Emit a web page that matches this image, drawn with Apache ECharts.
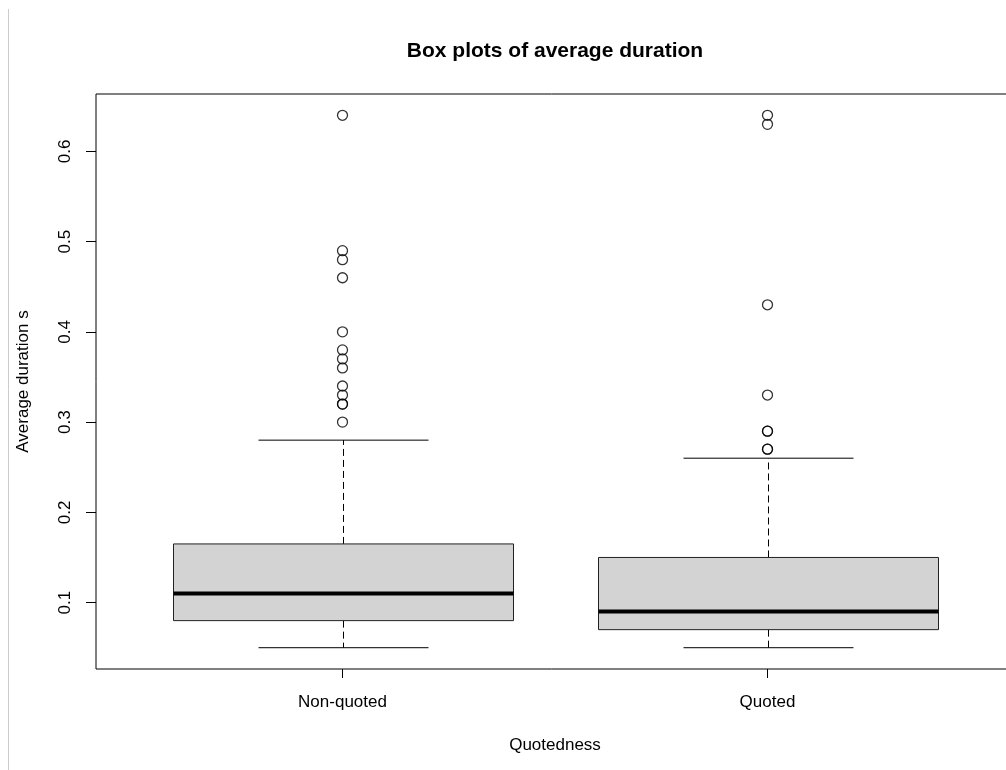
<!DOCTYPE html>
<html>
<head>
<meta charset="utf-8">
<script src="https://cdn.jsdelivr.net/npm/echarts@6/dist/echarts.min.js"></script>
<style>
html,body{margin:0;padding:0;background:#fff;}
#chart{width:1006px;height:770px;}
</style>
</head>
<body>
<div id="chart"></div>
<script>
// ---- data ----
var categories = ['Non-quoted', 'Quoted'];
var lowerWhisker = [0.05, 0.05];
var q1 = [0.08, 0.07];
var median = [0.11, 0.09];
var q3 = [0.165, 0.15];
var upperWhisker = [0.28, 0.26];
var outliersNonQuoted = [0.64, 0.49, 0.48, 0.46, 0.40, 0.38, 0.37, 0.36, 0.34, 0.33, 0.32, 0.32, 0.30];
var outliersQuoted = [0.64, 0.63, 0.43, 0.33, 0.29, 0.29, 0.27, 0.27];
var yTicks = [0.1, 0.2, 0.3, 0.4, 0.5, 0.6];

// ---- build ----
var boxData = categories.map(function (c, i) {
  return [i + 1, lowerWhisker[i], q1[i], median[i], q3[i], upperWhisker[i]];
});
var outlierData = [];
outliersNonQuoted.forEach(function (v) { outlierData.push([1, v]); });
outliersQuoted.forEach(function (v) { outlierData.push([2, v]); });

function renderBox(params, api) {
  var x = api.value(0);
  var pLw = api.coord([x, api.value(1)]);
  var pQ1 = api.coord([x, api.value(2)]);
  var pMed = api.coord([x, api.value(3)]);
  var pQ3 = api.coord([x, api.value(4)]);
  var pUw = api.coord([x, api.value(5)]);
  var boxW = api.size([0.8, 0])[0];
  var capW = api.size([0.4, 0])[0];
  var cx = Math.round(pMed[0]) + 0.5;
  var dashStyle = { stroke: '#000', lineWidth: 1, lineDash: [7, 4] };
  var solid = { stroke: '#000', lineWidth: 1 };
  return {
    type: 'group',
    children: [
      { type: 'line', shape: { x1: cx, y1: pQ3[1], x2: cx, y2: pUw[1] }, style: dashStyle },
      { type: 'line', shape: { x1: cx, y1: pQ1[1], x2: cx, y2: pLw[1] }, style: dashStyle },
      { type: 'line', shape: { x1: cx - capW / 2, y1: pUw[1], x2: cx + capW / 2, y2: pUw[1] }, style: solid },
      { type: 'line', shape: { x1: cx - capW / 2, y1: pLw[1], x2: cx + capW / 2, y2: pLw[1] }, style: solid },
      { type: 'rect', shape: { x: cx - boxW / 2, y: pQ3[1], width: boxW, height: pQ1[1] - pQ3[1] },
        style: { fill: '#d3d3d3', stroke: '#222', lineWidth: 1 } },
      { type: 'line', shape: { x1: cx - boxW / 2, y1: pMed[1], x2: cx + boxW / 2, y2: pMed[1] },
        style: { stroke: '#000', lineWidth: 4 } }
    ]
  };
}

var chart = echarts.init(document.getElementById('chart'), null, { renderer: 'canvas' });
var font = 'Liberation Sans, Arial, sans-serif';
chart.setOption({
  backgroundColor: '#fff',
  animation: false,
  title: {
    text: 'Box plots of average duration',
    left: 555,
    top: 41,
    padding: 0,
    textAlign: 'center',
    textStyle: { fontFamily: font, fontWeight: 'bold', fontSize: 21, color: '#000' }
  },
  graphic: [
    { type: 'line', shape: { x1: 8.5, y1: 9, x2: 8.5, y2: 770 }, style: { stroke: '#cccccc', lineWidth: 1 } }
  ],
  grid: {
    left: 96, top: 94, width: 918, height: 575,
    outerBoundsMode: 'none',
    containLabel: false,
    show: true, borderColor: '#000', borderWidth: 1, backgroundColor: 'transparent'
  },
  xAxis: {
    type: 'value',
    min: 0.42, max: 2.58,
    name: 'Quotedness',
    nameLocation: 'middle',
    nameGap: 68,
    nameTextStyle: { fontFamily: font, fontSize: 17, color: '#000' },
    axisLine: { show: false },
    splitLine: { show: false },
    axisTick: { show: true, customValues: [1, 2], length: 9, lineStyle: { color: '#000' } },
    axisLabel: {
      customValues: [1, 2], margin: 25,
      fontFamily: font, fontSize: 17, color: '#000',
      formatter: function (v) { return categories[Math.round(v) - 1] || ''; }
    }
  },
  yAxis: {
    type: 'value',
    min: 0.0264, max: 0.6636,
    name: 'Average duration s',
    nameLocation: 'middle',
    nameGap: 64,
    nameTextStyle: { fontFamily: font, fontSize: 17, color: '#000' },
    axisLine: { show: false },
    splitLine: { show: false },
    axisTick: { show: true, customValues: yTicks, length: 10, lineStyle: { color: '#000' } },
    axisLabel: {
      customValues: yTicks, rotate: 90, margin: 22,
      fontFamily: font, fontSize: 17, color: '#000',
      formatter: function (v) { return String(Math.round(v * 10) / 10); }
    }
  },
  series: [
    {
      type: 'custom',
      renderItem: renderBox,
      data: boxData,
      encode: { x: 0, y: [1, 2, 3, 4, 5] },
      clip: false,
      z: 2
    },
    {
      type: 'scatter',
      data: outlierData,
      symbol: 'circle',
      symbolSize: 10,
      itemStyle: { color: 'transparent', borderColor: '#000', borderWidth: 1.3 },
      z: 3
    }
  ]
});
</script>
</body>
</html>
